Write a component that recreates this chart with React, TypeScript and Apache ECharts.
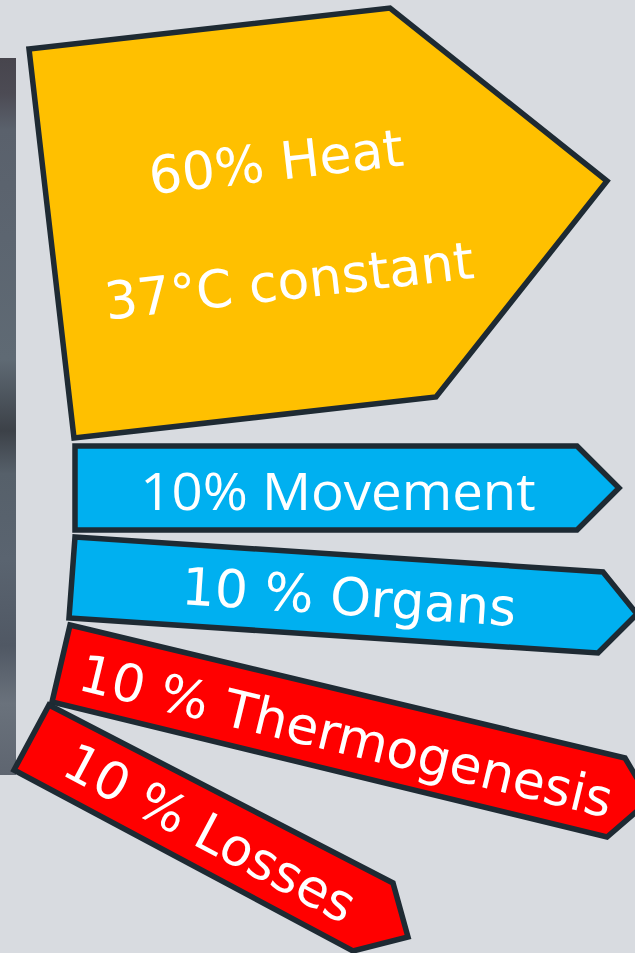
import React, { useEffect, useRef } from "react";
import * as echarts from "echarts";

// Content
const labels = ["60% Heat", "37°C constant", "10% Movement", "10 % Organs", "10 % Thermogenesis", "10 % Losses"];
const shares = [60, 10, 10, 10, 10];
const fills = ["#FFC000", "#00B0F0", "#00B0F0", "#FF0000", "#FF0000"];

// Layout (shape outlines, px)
const heatShape = [[29, 49], [390, 8], [607, 181], [436, 397], [74, 438]];
const movementShape = [[75, 446], [577, 446], [619, 488], [577, 530], [75, 530]];
const organsShape = [[75, 537], [603, 572], [637, 614], [598, 653], [69, 618]];
const thermoShape = [[70, 625], [625, 758], [650, 800], [607, 837], [52, 702]];
const lossesShape = [[49, 705], [393, 883], [408, 937], [353, 951], [14, 770]];
const shapes = [heatShape, movementShape, organsShape, thermoShape, lossesShape];

// Text anchors: [x, y, angleDeg, font, size, scaleX]
const textPlaces: [number, number, number, string, number, number][] = [
  [276, 162, 6.5, "DejaVu Sans", 52, 1],
  [289, 281, 6.5, "DejaVu Sans", 52, 1],
  [338, 490, 0, "Open Sans", 51, 1.07],
  [349, 597, -3.8, "DejaVu Sans", 52, 1],
  [346, 736, -13.6, "DejaVu Sans", 52, 1],
  [210, 833, -28, "DejaVu Sans", 52, 1],
];

export default function App() {
  const ref = useRef<HTMLDivElement>(null);
  useEffect(() => {
    document.body.style.margin = "0";
    const chart = echarts.init(ref.current!, null, { renderer: "svg" });
    const elements: any[] = [];
    elements.push({
      type: "rect",
      shape: { x: 0, y: 58, width: 16, height: 717 },
      style: {
        fill: new echarts.graphic.LinearGradient(0, 0, 0, 1, [
          { offset: 0, color: "#47454d" },
          { offset: 0.05, color: "#4c4b54" },
          { offset: 0.1, color: "#5a616c" },
          { offset: 0.25, color: "#5c6570" },
          { offset: 0.42, color: "#5f6a74" },
          { offset: 0.52, color: "#3c4148" },
          { offset: 0.58, color: "#56606a" },
          { offset: 0.7, color: "#5a6470" },
          { offset: 0.82, color: "#505864" },
          { offset: 0.9, color: "#6a727c" },
          { offset: 1, color: "#5e6570" },
        ]),
      },
      z: 1,
    });
    shapes.forEach((pts, i) => {
      elements.push({
        type: "polygon",
        shape: { points: pts },
        style: { fill: fills[i], stroke: "#1e2a33", lineWidth: 5.5, lineJoin: "miter" },
        z: 2 + i,
      });
    });
    labels.forEach((t, i) => {
      const [x, y, a, f, s, sx] = textPlaces[i];
      elements.push({
        type: "text",
        x,
        y,
        rotation: (a * Math.PI) / 180,
        scaleX: sx,
        style: {
          text: t,
          fill: "#ffffff",
          font: `${s}px "${f}"`,
          align: "center",
          verticalAlign: "middle",
        },
        z: 20,
      });
    });
    chart.setOption({
      animation: false,
      backgroundColor: "#d8dbe0",
      graphic: { elements },
    });
    return () => chart.dispose();
  }, []);
  return <div ref={ref} style={{ width: 635, height: 953 }} />;
}
